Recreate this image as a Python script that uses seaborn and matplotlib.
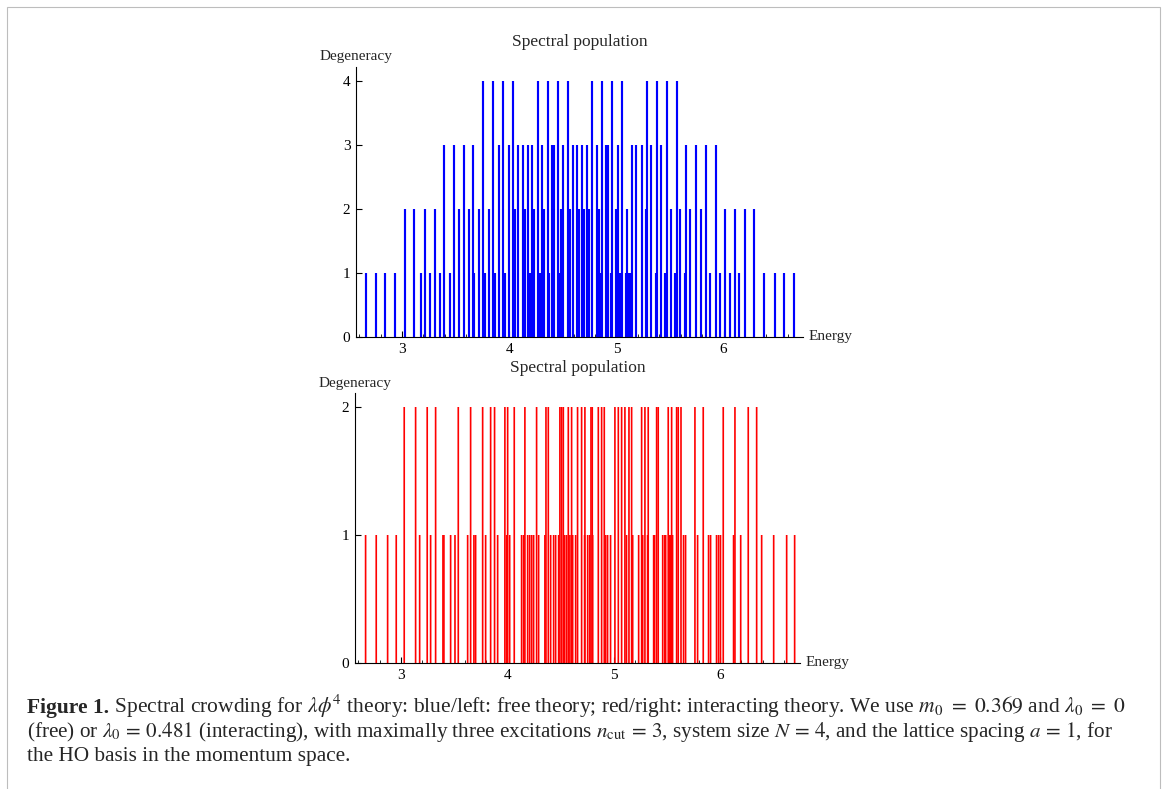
import matplotlib
matplotlib.use("Agg")
import matplotlib.pyplot as plt
from matplotlib.patches import Rectangle
from matplotlib.ticker import MultipleLocator, FixedLocator
import pandas as pd
import seaborn as sns

# Free theory: energy levels and their degeneracies
free_energy = [
    2.661, 2.755, 2.839, 2.932, 3.028, 3.109, 3.174, 3.215, 3.261, 3.308,
    3.352, 3.389, 3.445, 3.482, 3.529, 3.576, 3.622, 3.665, 3.674, 3.715,
    3.753, 3.771, 3.810, 3.846, 3.865, 3.902, 3.939, 3.958, 3.995, 4.033,
    4.051, 4.079, 4.126, 4.145, 4.173, 4.191, 4.216, 4.228, 4.266, 4.284,
    4.303, 4.322, 4.359, 4.370, 4.396, 4.415, 4.452, 4.468, 4.483, 4.499,
    4.546, 4.564, 4.592, 4.630, 4.648, 4.676, 4.695, 4.723, 4.742, 4.770,
    4.816, 4.835, 4.854, 4.863, 4.900, 4.919, 4.947, 4.956, 4.993, 5.012,
    5.031, 5.049, 5.087, 5.096, 5.115, 5.124, 5.143, 5.180, 5.236, 5.273,
    5.283, 5.320, 5.367, 5.376, 5.413, 5.451, 5.469, 5.507, 5.544, 5.562,
    5.591, 5.638, 5.647, 5.684, 5.740, 5.786, 5.833, 5.870, 5.926, 5.963,
    6.010, 6.057, 6.103, 6.141, 6.197, 6.284, 6.374, 6.477, 6.561, 6.654,
]
free_degeneracy = [
    1, 1, 1, 1, 2, 2, 1, 2, 1, 2,
    1, 3, 1, 3, 2, 3, 2, 3, 1, 2,
    4, 1, 2, 4, 1, 3, 4, 1, 3, 4,
    2, 3, 3, 2, 3, 1, 3, 2, 4, 1,
    3, 2, 4, 1, 3, 3, 4, 1, 2, 3,
    4, 2, 3, 3, 2, 3, 2, 3, 2, 4,
    3, 2, 1, 4, 3, 3, 1, 4, 2, 3,
    1, 4, 1, 2, 1, 1, 3, 3, 3, 2,
    4, 3, 1, 4, 3, 1, 4, 2, 1, 4,
    2, 1, 3, 2, 3, 2, 3, 1, 3, 1,
    2, 1, 2, 1, 2, 2, 1, 1, 1, 1,
]

# Interacting theory: energy levels and their degeneracies
int_energy_double = [
    3.031, 3.138, 3.247, 3.326, 3.539, 3.655, 3.768, 3.843, 3.880, 3.977,
    4.003, 4.065, 4.165, 4.275, 4.363, 4.385, 4.494, 4.510, 4.526, 4.573,
    4.604, 4.660, 4.698, 4.729, 4.786, 4.798, 4.855, 4.886, 4.911, 5.011,
    5.043, 5.074, 5.105, 5.143, 5.168, 5.262, 5.293, 5.324, 5.403, 5.418,
    5.512, 5.544, 5.591, 5.606, 5.632, 5.763, 5.841, 6.029, 6.139, 6.264,
    6.343,
]
int_energy_single = [
    2.668, 2.768, 2.875, 2.956, 3.176, 3.279, 3.395, 3.404, 3.467, 3.508,
    3.627, 3.686, 3.702, 3.796, 3.909, 3.993, 4.022, 4.134, 4.153, 4.191,
    4.210, 4.229, 4.247, 4.294, 4.353, 4.407, 4.435, 4.454, 4.482, 4.539,
    4.557, 4.588, 4.614, 4.642, 4.726, 4.755, 4.774, 4.802, 4.924, 4.942,
    4.970, 5.120, 5.178, 5.234, 5.272, 5.318, 5.375, 5.384, 5.460, 5.479,
    5.488, 5.525, 5.535, 5.553, 5.656, 5.675, 5.788, 5.891, 5.910, 5.966,
    5.985, 6.003, 6.126, 6.193, 6.390, 6.503, 6.625, 6.700,
]
int_energy = int_energy_double + int_energy_single
int_degeneracy = [2] * len(int_energy_double) + [1] * len(int_energy_single)

panel_title = "Spectral population"
y_label = "Degeneracy"
x_label = "Energy"
x_major = [3, 4, 5, 6]

caption_bold = "Figure 1."
caption_lines = [
    r" Spectral crowding for $\lambda\phi^4$ theory: blue/left: free theory; "
    r"red/right: interacting theory. We use $m_0\ =\ 0.369$ and $\lambda_0\ =\ 0$",
    r"(free) or $\lambda_0\,=\,0.481$ (interacting), with maximally three excitations "
    r"$n_{\mathrm{cut}}\,=\,3$, system size $N\,=\,4$, and the lattice spacing $a\,=\,1$, for",
    r"the HO basis in the momentum space.",
]

free_df = pd.DataFrame({"energy": free_energy, "degeneracy": free_degeneracy})
int_df = pd.DataFrame({"energy": int_energy, "degeneracy": int_degeneracy})

sns.set_theme(style="ticks")
plt.rcParams["font.family"] = ["Liberation Serif", "DejaVu Serif"]
plt.rcParams["mathtext.fontset"] = "stix"

fig = plt.figure(figsize=(11.68, 7.89), dpi=100)
ax_top = fig.add_axes([0.3048, 0.5729, 0.3827, 0.3426])
ax_bot = fig.add_axes([0.3039, 0.1597, 0.3810, 0.3418])


def draw_panel(ax, df, color, lw, snap, xlim, ylim, yticks):
    lines = ax.vlines(df["energy"], 0, df["degeneracy"], colors=color,
                      linewidth=lw, zorder=2)
    lines.set_snap(snap)
    ax.set_xlim(*xlim)
    ax.set_ylim(*ylim)
    ax.xaxis.set_major_locator(FixedLocator(x_major))
    ax.xaxis.set_minor_locator(MultipleLocator(0.2))
    ax.yaxis.set_major_locator(FixedLocator(yticks))
    ax.tick_params(axis="both", which="major", direction="in", length=4,
                   width=0.8, labelsize=11, pad=4, colors="black")
    ax.tick_params(axis="x", which="minor", direction="in", length=2.5,
                   width=0.7)
    sns.despine(ax=ax)
    for side in ("left", "bottom"):
        ax.spines[side].set_linewidth(0.8)
        ax.spines[side].set_color("black")
        ax.spines[side].set_zorder(3)
    ax.set_facecolor("white")
    ax.set_title(panel_title, fontsize=12.5, pad=15)
    ax.annotate(y_label, xy=(0, 1), xycoords="axes fraction",
                xytext=(0, 7), textcoords="offset points",
                ha="center", va="center", fontsize=11)
    ax.annotate(x_label, xy=(1, 0), xycoords="axes fraction",
                xytext=(4, 0), textcoords="offset points",
                ha="left", va="center", fontsize=11)


draw_panel(ax_top, free_df, "#0000ff", 1.55, True,
           (2.571, 6.741), (0, 4.22), [0, 1, 2, 3, 4])
draw_panel(ax_bot, int_df, "#ff0000", 1.2, False,
           (2.568, 6.750), (0, 2.107), [0, 1, 2])

# Page frame
fig.patches.append(Rectangle((7 / 1168, -0.05), (1160 - 7) / 1168, 1.0411,
                             transform=fig.transFigure, fill=False,
                             edgecolor="#bdbdbd", linewidth=0.8))

# Caption
cap_sizes = [15.5, 15.2, 15.3]
x0 = 27 / 1168
baselines = [0.0966, 0.0662, 0.0358]
bold = fig.text(x0, baselines[0], caption_bold, fontsize=cap_sizes[0],
                fontweight="bold", va="baseline", ha="left")
fig.canvas.draw()
bb = bold.get_window_extent(fig.canvas.get_renderer())
x1 = bb.x1 / fig.bbox.width
fig.text(x1, baselines[0], caption_lines[0], fontsize=cap_sizes[0],
         va="baseline", ha="left")
fig.text(x0, baselines[1], caption_lines[1], fontsize=cap_sizes[1],
         va="baseline", ha="left")
fig.text(x0, baselines[2], caption_lines[2], fontsize=cap_sizes[2],
         va="baseline", ha="left")

fig.savefig("out.png", dpi=100, facecolor="white")
